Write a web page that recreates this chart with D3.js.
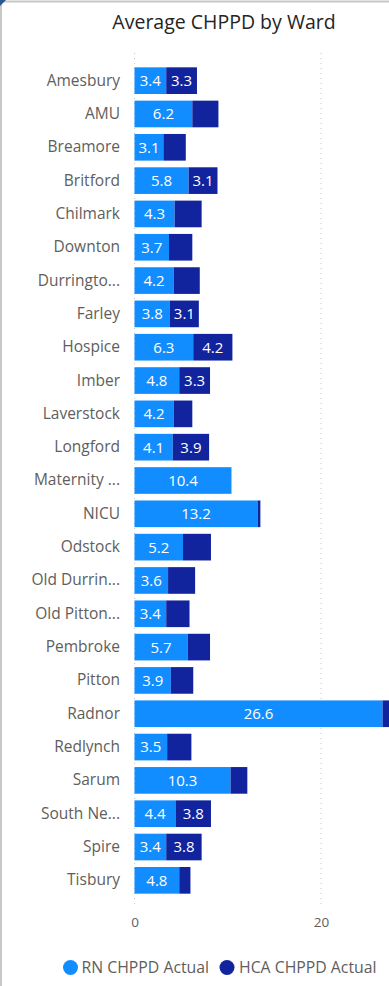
<!DOCTYPE html>
<html>
<head>
<meta charset="utf-8">
<script src="https://cdn.jsdelivr.net/npm/d3@7"></script>
<style>
  html, body { margin: 0; padding: 0; background: #fff; }
  svg { display: block; }
</style>
</head>
<body>
<div id="chart"></div>
<script>
const categories = ["Amesbury","AMU","Breamore","Britford","Chilmark","Downton","Durringto...","Farley","Hospice","Imber","Laverstock","Longford","Maternity ...","NICU","Odstock","Old Durrin...","Old Pitton...","Pembroke","Pitton","Radnor","Redlynch","Sarum","South Ne...","Spire","Tisbury"];
const rnValues  = [3.4, 6.2, 3.1, 5.8, 4.3, 3.7, 4.2, 3.8, 6.3, 4.8, 4.2, 4.1, 10.4, 13.2, 5.2, 3.6, 3.4, 5.7, 3.9, 26.6, 3.5, 10.3, 4.4, 3.4, 4.8];
const hcaValues = [3.3, 2.8, 2.4, 3.1, 2.9, 2.5, 2.8, 3.1, 4.2, 3.3, 2.0, 3.9, 0.0, 0.3, 3.0, 2.9, 2.5, 2.4, 2.4, 2.0, 2.6, 1.8, 3.8, 3.8, 1.2];
const seriesNames = ["RN CHPPD Actual", "HCA CHPPD Actual"];
const xTicks = [0, 20];

const W = 389, H = 986;
const colors = ["#118DFF", "#12239E"];
const font = "'Open Sans', 'Noto Sans', sans-serif";

const svg = d3.select("#chart").append("svg").attr("width", W).attr("height", H);

// frame
svg.append("line").attr("x1", 0).attr("x2", W).attr("y1", 1.5).attr("y2", 1.5).attr("stroke", "#c8c8c8").attr("stroke-width", 2);
svg.append("line").attr("x1", 1).attr("x2", 1).attr("y1", 0).attr("y2", H).attr("stroke", "#c8c8c8").attr("stroke-width", 2);
svg.append("path").attr("d", "M0,0 L6,0 L0,6 Z").attr("fill", "#2b5797");

// title
svg.append("text").attr("x", 224).attr("y", 28.5).attr("text-anchor", "middle")
  .attr("font-family", font).attr("font-size", 19.5).attr("fill", "#252423")
  .text("Average CHPPD by Ward");

const x = d3.scaleLinear().domain([0, 20]).range([134.5, 321]);
const y = d3.scaleBand().domain(categories).range([64, 897]).paddingInner(0.2).paddingOuter(0.1);

// gridlines
svg.append("g").selectAll("line").data(xTicks).join("line")
  .attr("x1", d => x(d)).attr("x2", d => x(d)).attr("y1", 53).attr("y2", 907)
  .attr("stroke", "#c8c6c4").attr("stroke-width", 1).attr("stroke-dasharray", "1,4");

// x axis labels
const xAxis = d3.axisBottom(x).tickValues(xTicks).tickSize(0).tickPadding(0);
const gx = svg.append("g").attr("transform", "translate(0,915)").call(xAxis);
gx.select(".domain").remove();
gx.selectAll("text").attr("font-family", font).attr("font-size", 13.5).attr("fill", "#605E5C").attr("dy", "0.9em");

// y axis labels
const yAxis = d3.axisLeft(y).tickSize(0).tickPadding(0);
const gy = svg.append("g").attr("transform", "translate(120,0)").call(yAxis);
gy.select(".domain").remove();
gy.selectAll("text").attr("font-family", font).attr("font-size", 15.5).attr("fill", "#605E5C");

// stacked data
const rows = categories.map((c, i) => ({ cat: c, RN: rnValues[i], HCA: hcaValues[i] }));
const stack = d3.stack().keys(["RN", "HCA"]);
const layers = stack(rows);

svg.append("clipPath").attr("id", "plotclip").append("rect")
  .attr("x", 0).attr("y", 0).attr("width", W).attr("height", H);

const gBars = svg.append("g").attr("clip-path", "url(#plotclip)");
layers.forEach((layer, li) => {
  const g = gBars.append("g");
  g.selectAll("rect").data(layer).join("rect")
    .attr("x", d => x(d[0]))
    .attr("y", d => y(d.data.cat))
    .attr("width", d => Math.max(0, x(d[1]) - x(d[0])))
    .attr("height", y.bandwidth())
    .attr("fill", colors[li]);
  g.selectAll("text").data(layer.filter(d => (d[1] - d[0]) >= 3.0)).join("text")
    .attr("x", d => (x(d[0]) + x(d[1])) / 2)
    .attr("y", d => y(d.data.cat) + y.bandwidth() / 2)
    .attr("dy", "0.36em")
    .attr("text-anchor", "middle")
    .attr("font-family", font).attr("font-size", 15).attr("fill", "#ffffff")
    .text(d => d3.format(".1f")(d[1] - d[0]));
});

// legend
const legendItems = [
  { name: seriesNames[0], cx: 70.5, tx: 81.5, color: colors[0] },
  { name: seriesNames[1], cx: 227, tx: 239, color: colors[1] }
];
const gl = svg.append("g");
legendItems.forEach(it => {
  gl.append("circle").attr("cx", it.cx).attr("cy", 967.5).attr("r", 7.5).attr("fill", it.color);
  gl.append("text").attr("x", it.tx).attr("y", 967.5).attr("dy", "0.36em")
    .attr("font-family", font).attr("font-size", 15.8).attr("fill", "#605E5C").text(it.name);
});
</script>
</body>
</html>
